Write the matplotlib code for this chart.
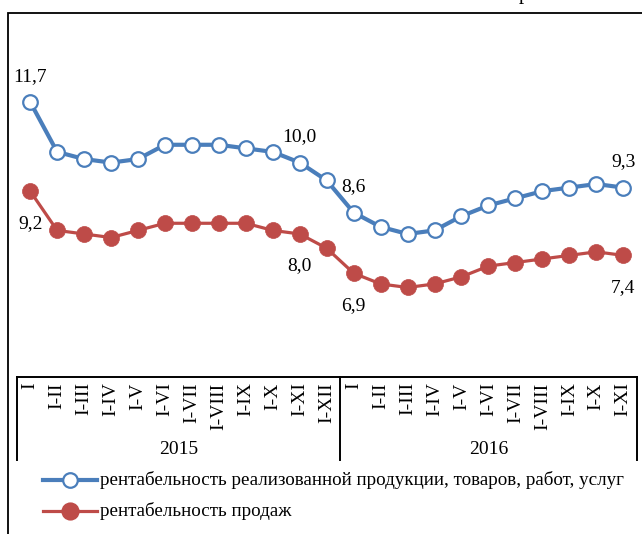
import matplotlib
matplotlib.use("Agg")
import matplotlib.pyplot as plt
from matplotlib.lines import Line2D
from matplotlib.patches import Rectangle

periods = ["I", "I-II", "I-III", "I-IV", "I-V", "I-VI", "I-VII", "I-VIII",
           "I-IX", "I-X", "I-XI", "I-XII",
           "I", "I-II", "I-III", "I-IV", "I-V", "I-VI", "I-VII", "I-VIII",
           "I-IX", "I-X", "I-XI"]
years = ["2015", "2016"]
year_counts = [12, 11]

product_profit = [11.7, 10.3, 10.1, 10.0, 10.1, 10.5, 10.5, 10.5, 10.4, 10.3, 10.0, 9.5,
                  8.6, 8.2, 8.0, 8.1, 8.5, 8.8, 9.0, 9.2, 9.3, 9.4, 9.3]
sales_profit = [9.2, 8.1, 8.0, 7.9, 8.1, 8.3, 8.3, 8.3, 8.3, 8.1, 8.0, 7.6,
                6.9, 6.6, 6.5, 6.6, 6.8, 7.1, 7.2, 7.3, 7.4, 7.5, 7.4]

series_names = ["рентабельность реализованной продукции, товаров, работ, услуг",
                "рентабельность продаж"]
blue_labels_idx = [0, 10, 12, 22]
red_labels_idx = [0, 10, 12, 22]

FONT = "Liberation Serif"
plt.rcParams["font.family"] = [FONT, "DejaVu Serif"]
FS = 14

W, H = 642, 534
fig = plt.figure(figsize=(W / 100, H / 100), dpi=100)

def fx(px):
    return px / W

def fy(py):
    return 1 - py / H

# outer frame
fig.add_artist(Rectangle((fx(8), fy(560)), fx(700), fy(13) - fy(560),
                         transform=fig.transFigure, fill=False,
                         edgecolor="black", linewidth=1.3))
# cut-off text fragment above frame
fig.text(fx(519), fy(-1), "р", fontsize=15, va="baseline", ha="left")

ymin, ymax = 4.0, 14.0
ax_left, ax_right = 16.7, 636.7
ax_bottom = 376.7
ax_top = 102 - (ymax - 11.7) * 35.7
ax = fig.add_axes([fx(ax_left), fy(ax_bottom), fx(ax_right - ax_left),
                   fy(ax_top) - fy(ax_bottom)])
ax.set_facecolor("none")

n = len(periods)
x = list(range(n))
blue = "#4A7EBB"
red = "#BE4B48"
ax.plot(x, product_profit, color=blue, lw=3.0, marker="o", ms=10.5,
        mfc="white", mec=blue, mew=1.6, zorder=3)
ax.plot(x, sales_profit, color=red, lw=2.3, marker="o", ms=11.5,
        mfc=red, mec=red, mew=0.5, zorder=3)

ax.set_xlim(-0.5, n - 0.5)
ax.set_ylim(ymin, ymax)
for s in ["top", "right", "left"]:
    ax.spines[s].set_visible(False)
ax.spines["bottom"].set_linewidth(1.4)
ax.set_yticks([])
ax.set_xticks(x)
ax.set_xticklabels(periods, rotation=90, fontsize=FS, va="top")
ax.tick_params(axis="x", length=0, pad=4)

def fmt(v):
    return f"{v:.1f}".replace(".", ",")

for i in blue_labels_idx:
    ax.annotate(fmt(product_profit[i]), (x[i], product_profit[i]),
                xytext=(0, 18.5), textcoords="offset points",
                ha="center", va="center", fontsize=FS)
for i in red_labels_idx:
    ax.annotate(fmt(sales_profit[i]), (x[i], sales_profit[i]),
                xytext=(0, -23), textcoords="offset points",
                ha="center", va="center", fontsize=FS)

# multi-level category axis: separators and year labels
trans = ax.get_xaxis_transform()
sep_bottom = (ax_bottom - 460) / (ax_bottom - ax_top)
start = 0
bounds = [-0.5]
for cnt in year_counts:
    start += cnt
    bounds.append(start - 0.5)
for b in bounds:
    ax.add_line(Line2D([b, b], [0, sep_bottom], transform=trans,
                       color="black", lw=1.4, clip_on=False))
year_y = (ax_bottom - 449) / (ax_bottom - ax_top)
for yr, lo, hi in zip(years, bounds[:-1], bounds[1:]):
    ax.text((lo + hi) / 2, year_y, yr, transform=trans, ha="center",
            va="center", fontsize=FS)

# legend
leg_rows = [(480, blue, "white", 10.5, 3.0), (511, red, red, 11.5, 2.3)]
for (py, c, fc, ms, lw), name in zip(leg_rows, series_names):
    fig.add_artist(Line2D([fx(43), fx(97)], [fy(py), fy(py)],
                          transform=fig.transFigure, color=c, lw=lw))
    fig.add_artist(Line2D([fx(70)], [fy(py)], transform=fig.transFigure,
                          marker="o", ms=ms, mfc=fc, mec=c, mew=1.6, lw=0))
    fig.text(fx(100), fy(py), name, ha="left", va="center", fontsize=13.7)

fig.savefig("out.png", dpi=100)
